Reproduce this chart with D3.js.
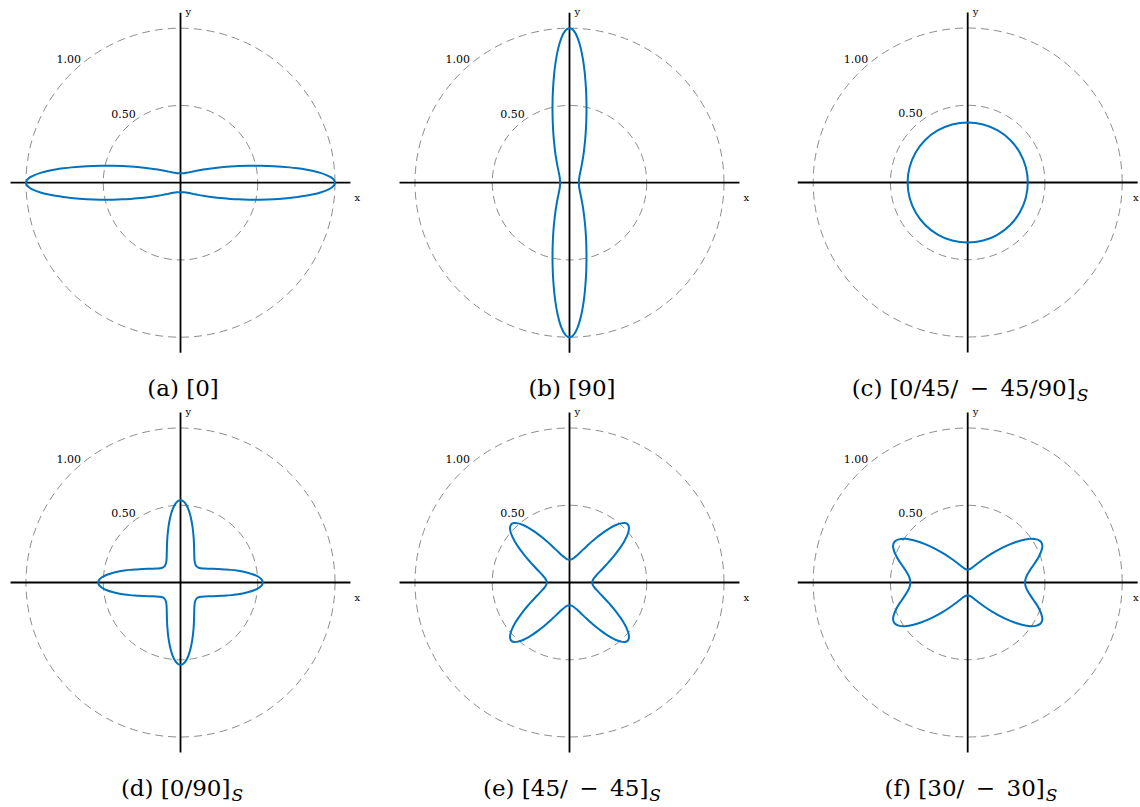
<!DOCTYPE html>
<html><head><meta charset="utf-8">
<script src="https://cdn.jsdelivr.net/npm/d3@7"></script>
<style>
body{margin:0;background:#fff} svg{display:block}
svg text{font-family:"DejaVu Serif","Liberation Serif",serif;}
</style>
</head><body><svg id="chart" width="1140" height="807"></svg>
<script>
// ---- data ----
const gridRadii = [0.5, 1.0];
const gridLabels = ["0.50", "1.00"];
const captionTags = ["(a)", "(b)", "(c)", "(d)", "(e)", "(f)"];
const captionLayups = ["[0]", "[90]", "[0/45/\u2002\u2212\u200245/90]", "[0/90]", "[45/\u2002\u2212\u200245]", "[30/\u2002\u2212\u200230]"];
const captionSubs = ["", "", "S", "S", "S", "S"];

// polar angle (deg, first quadrant) and normalised modulus
const thetaA = [0,1,2,3,4,5,6,7,8,10,12,14,16,18,20,25,30,35,40,45,50,55,60,65,70,75,80,85,90];
const rA = [1.0,0.9937,0.9752,0.9458,0.9077,0.8631,0.8143,0.7636,0.7126,0.6150,0.5279,0.4533,0.3909,0.3392,0.2965,0.2192,0.1699,0.1373,0.1149,0.0992,0.0879,0.0797,0.0736,0.0692,0.0659,0.0637,0.0622,0.0613,0.0610];

const thetaB = [0,5,10,15,20,25,30,35,40,45,50,55,60,65,70,72,74,76,78,80,82,83,84,85,86,87,88,89,90];
const rB = [0.0610,0.0613,0.0622,0.0637,0.0659,0.0692,0.0736,0.0797,0.0879,0.0992,0.1149,0.1373,0.1699,0.2192,0.2965,0.3392,0.3909,0.4533,0.5279,0.6150,0.7126,0.7636,0.8143,0.8631,0.9077,0.9458,0.9752,0.9937,1.0];

const thetaC = [0,15,30,45,60,75,90];
const rC = [0.389,0.389,0.389,0.389,0.389,0.389,0.389];

const thetaD = [0,2,4,6,8,10,12,14,16,18,20,25,30,35,40,45,50,55,60,65,70,72,74,76,78,80,82,84,86,88,90];
const rD = [0.5328,0.5261,0.5071,0.4787,0.4444,0.4079,0.3718,0.3379,0.3071,0.2798,0.2560,0.2101,0.1798,0.1609,0.1506,0.1473,0.1506,0.1609,0.1798,0.2101,0.2560,0.2798,0.3071,0.3379,0.3718,0.4079,0.4444,0.4787,0.5071,0.5261,0.5328];

const thetaE = [0,5,10,15,20,25,27,29,31,33,35,37,39,41,43,45,47,49,51,53,55,57,59,61,63,65,70,75,80,85,90];
const rE = [0.1473,0.1506,0.1609,0.1798,0.2101,0.2560,0.2798,0.3071,0.3379,0.3718,0.4079,0.4444,0.4787,0.5071,0.5261,0.5328,0.5261,0.5071,0.4787,0.4444,0.4079,0.3718,0.3379,0.3071,0.2798,0.2560,0.2101,0.1798,0.1609,0.1506,0.1473];

const thetaF = [0,5,10,15,20,25,27,28,29,30,32,35,38,40,42,45,50,55,60,65,70,75,80,85,90];
const rF = [0.3711,0.3791,0.4030,0.4421,0.4907,0.5323,0.5408,0.5424,0.5419,0.5392,0.5269,0.4927,0.4445,0.4084,0.3717,0.3192,0.2456,0.1914,0.1532,0.1268,0.1087,0.0966,0.0888,0.0845,0.0831];

const panelThetas = [thetaA, thetaB, thetaC, thetaD, thetaE, thetaF];
const panelRadii = [rA, rB, rC, rD, rE, rF];

// ---- layout ----
const centers = [[180.5,182.7],[569.5,182.7],[967.7,182.5],[180.5,582.5],[569.5,582.5],[967.7,582.5]];
const captionY = [396, 396, 396, 796, 796, 796];
const captionX = [183, 572, 970, 182, 572, 971];
const R = 154.5;
const axisExt = 1.1;
const blue = "#0072BD";

const svg = d3.select("#chart");
const rScale = d3.scaleLinear().domain([0, 1]).range([0, R]);

function fullCurve(th, r) {
  const pts = [];
  th.forEach((t, i) => pts.push([t, r[i]]));
  th.slice(0, -1).map((t, i) => [180 - t, r[i]]).reverse().forEach(p => pts.push(p));
  th.slice(1).forEach((t, i) => pts.push([180 + t, r[i + 1]]));
  th.slice(1, -1).map((t, i) => [360 - t, r[i + 1]]).reverse().forEach(p => pts.push(p));
  return pts;
}

const radial = d3.lineRadial()
  .angle(d => Math.PI / 2 - d[0] * Math.PI / 180)
  .radius(d => rScale(d[1]))
  .curve(d3.curveCatmullRomClosed.alpha(0.5));

centers.forEach((c, k) => {
  const g = svg.append("g").attr("transform", `translate(${c[0]},${c[1]})`);
  g.selectAll("circle.grid").data(gridRadii).join("circle")
    .attr("class", "grid")
    .attr("r", d => rScale(d))
    .attr("fill", "none")
    .attr("stroke", "#6e6e6e")
    .attr("stroke-width", 0.8)
    .attr("stroke-dasharray", "8,5");
  g.selectAll("text.gl").data(gridRadii).join("text")
    .attr("class", "gl")
    .attr("x", d => rScale(d) * Math.cos(3 * Math.PI / 4) - 2.5)
    .attr("y", d => -rScale(d) * Math.sin(3 * Math.PI / 4) - 10.5)
    .attr("text-anchor", "middle")
    .attr("font-size", 11)
    .text((d, i) => gridLabels[i]);
  const ext = rScale(axisExt);
  g.append("line").attr("x1", -ext).attr("x2", ext).attr("y1", 0).attr("y2", 0)
    .attr("stroke", "#000").attr("stroke-width", 1.8);
  g.append("line").attr("x1", 0).attr("x2", 0).attr("y1", -ext).attr("y2", ext)
    .attr("stroke", "#000").attr("stroke-width", 1.8);
  const xLabelX = Math.min(ext + 4, 1133 - c[0]);
  g.append("text").attr("x", xLabelX).attr("y", 18).attr("font-size", 10).text("x");
  g.append("text").attr("x", 5).attr("y", -ext + 2).attr("font-size", 10).text("y");
  g.append("path")
    .attr("d", radial(fullCurve(panelThetas[k], panelRadii[k])))
    .attr("fill", "none")
    .attr("stroke", blue)
    .attr("stroke-width", 2);
  const t = svg.append("text")
    .attr("x", captionX[k]).attr("y", captionY[k])
    .attr("text-anchor", "middle")
    .attr("font-size", 23);
  t.append("tspan").text(captionTags[k] + " " + captionLayups[k]);
  if (captionSubs[k]) {
    t.append("tspan").attr("dy", 5).attr("dx", 1).attr("font-size", 17).attr("font-style", "italic").text(captionSubs[k]);
  }
});
</script>
</body></html>
